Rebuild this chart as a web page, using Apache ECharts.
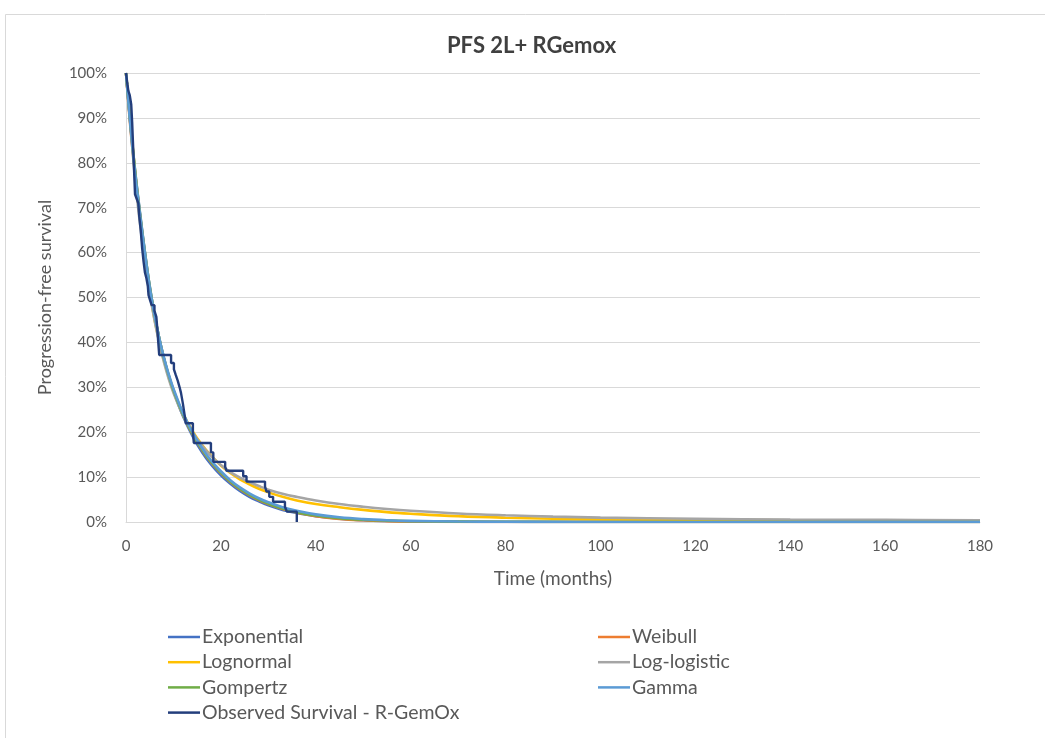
<!DOCTYPE html>
<html>
<head>
<meta charset="utf-8">
<title>PFS 2L+ RGemox</title>
<script src="https://cdn.jsdelivr.net/npm/echarts@6/dist/echarts.min.js"></script>
<style>
  html, body { margin: 0; padding: 0; background: #ffffff; }
  #chart { width: 1045px; height: 738px; }
</style>
</head>
<body>
<div id="chart"></div>
<script>
// Time grid (months) shared by the fitted parametric curves
const months = [0,1,2,3,4,5,6,7,8,9,10,12,14,16,18,20,22,24,26,28,30,33,36,40,45,50,55,60,70,80,90,100,120,140,160,180];

// Fitted survival (%) per distribution
const exponential = [100,88,77.5,68.5,60,52.5,46.3,41,36.4,32.5,29.2,23.6,19.2,15.6,12.7,10.4,8.5,6.9,5.6,4.6,3.7,2.7,2.0,1.3,0.75,0.42,0.24,0.14,0.05,0.015,0.005,0,0,0,0,0];
const weibull     = [100,87,76.8,67.8,59.5,52,46,40.8,36.3,32.5,29.3,23.9,19.6,16.1,13.2,10.9,8.9,7.3,6.0,4.9,4.0,2.9,2.1,1.3,0.7,0.38,0.2,0.1,0.03,0.01,0,0,0,0,0,0];
const lognormal   = [100,88.5,77,67,58.5,51.2,45.2,40.2,36,32.4,29.2,24.2,20.3,17.2,14.7,12.6,10.9,9.5,8.4,7.4,6.6,5.6,4.8,4.0,3.3,2.7,2.2,1.85,1.3,0.95,0.72,0.58,0.45,0.4,0.36,0.33];
const loglogistic = [100,87.5,75.5,66,58,51,45,40,35.6,31.9,28.8,23.8,20,17,14.6,12.7,11.1,9.9,8.9,8.0,7.2,6.3,5.6,4.8,4.0,3.4,2.9,2.5,1.9,1.5,1.2,0.98,0.72,0.56,0.47,0.4];
const gompertz    = [100,87.8,77.3,68.2,60,52.5,46.3,41,36.5,32.7,29.4,24.0,19.7,16.2,13.3,11.0,9.0,7.4,6.1,5.0,4.1,3.0,2.2,1.45,0.85,0.5,0.3,0.18,0.08,0.04,0.02,0.01,0,0,0,0];
const gamma       = [100,87.5,77,68,59.8,52.3,46.2,41,36.6,32.9,29.7,24.3,20,16.5,13.6,11.3,9.3,7.7,6.4,5.3,4.4,3.3,2.5,1.7,1.05,0.65,0.4,0.25,0.1,0.04,0.015,0.006,0.001,0,0,0];

// Kaplan-Meier estimate (event times in months, survival %)
const kmTimes = [0,0.3,0.5,0.8,1.1,1.3,1.45,1.6,1.75,1.9,2.25,2.6,2.8,3.1,3.4,3.7,4.0,4.3,4.6,4.75,5.1,5.4,6.0,6.4,6.6,6.8,7.0,9.5,10.1,10.5,10.9,11.3,11.6,12.0,12.3,12.6,14.1,14.3,17.9,18.4,20.9,21.2,24.7,25.4,29.3,29.6,30.2,31.0,33.5,33.9,36.0];
const kmSurvival = [100,97.5,96,95,93,89,85,81,77,73,72,71,68,65,61,58,55.5,54.3,52.5,50.5,49.3,48.3,47,45.7,43,40,37.2,35.4,34,32.7,31.5,30,28.7,26.3,24.2,22,20,17.6,15.5,13.4,12.3,11.4,10.2,9.0,7.9,6.8,5.6,4.5,3.4,2.3,0];

const yTicks = [0,10,20,30,40,50,60,70,80,90,100];

const FONT = 'Lato, "Open Sans", sans-serif';
const TEXT = '#595959';

function pairs(xs, ys) { return xs.map((x, i) => [x, ys[i]]); }

function fitted(name, values, color) {
  return {
    name: name, type: 'line', data: pairs(months, values),
    smooth: 0.4, symbol: 'none', z: 2,
    lineStyle: { color: color, width: 2.6 }, itemStyle: { color: color }
  };
}

const legendCommon = {
  orient: 'vertical', top: 622, itemGap: 5.2,
  icon: 'rect', itemWidth: 32, itemHeight: 2.5,
  textStyle: { fontFamily: FONT, fontSize: 19.5, color: TEXT, padding: [0, 0, 0, -3] }
};

const chart = echarts.init(document.getElementById('chart'), null, { renderer: 'canvas' });

chart.setOption({
  animation: false,
  backgroundColor: '#ffffff',
  graphic: [{
    type: 'rect', silent: true, z: -10,
    shape: { x: 5.5, y: 14.5, width: 1060, height: 760 },
    style: { fill: 'none', stroke: '#d9d9d9', lineWidth: 1 }
  }],
  title: {
    text: 'PFS 2L+ RGemox', left: 442, top: 30,
    textStyle: { fontFamily: FONT, fontSize: 22, fontWeight: 'bold', color: '#404040' }
  },
  grid: { left: 126, right: 65, top: 73, bottom: 216, containLabel: false },
  legend: [
    Object.assign({}, legendCommon, {
      left: 163, data: ['Exponential', 'Lognormal', 'Gompertz', 'Observed Survival - R-GemOx']
    }),
    Object.assign({}, legendCommon, {
      left: 593, data: ['Weibull', 'Log-logistic', 'Gamma']
    })
  ],
  xAxis: {
    type: 'value', min: 0, max: 180, interval: 20,
    name: 'Time (months)', nameLocation: 'middle', nameGap: 47,
    nameTextStyle: { fontFamily: FONT, fontSize: 19, color: TEXT },
    axisLine: { show: true, lineStyle: { color: '#d9d9d9', width: 1 } },
    axisTick: { show: false },
    axisLabel: { fontFamily: FONT, fontSize: 15, color: TEXT, margin: 17 },
    splitLine: { show: false }
  },
  yAxis: {
    type: 'value', min: 0, max: 100, interval: 10,
    name: 'Progression-free survival', nameLocation: 'middle', nameGap: 72,
    nameTextStyle: { fontFamily: FONT, fontSize: 18, color: TEXT },
    axisLine: { show: true, lineStyle: { color: '#d9d9d9', width: 1 } },
    axisTick: { show: false },
    axisLabel: {
      fontFamily: FONT, fontSize: 15, color: TEXT, margin: 19,
      formatter: v => (yTicks.includes(v) ? v + '%' : '')
    },
    splitLine: { show: true, lineStyle: { color: '#d9d9d9', width: 1.2 } }
  },
  series: [
    fitted('Exponential', exponential, '#4472c4'),
    fitted('Weibull', weibull, '#ed7d31'),
    fitted('Lognormal', lognormal, '#ffc000'),
    fitted('Log-logistic', loglogistic, '#a5a5a5'),
    fitted('Gompertz', gompertz, '#70ad47'),
    fitted('Gamma', gamma, '#5b9bd5'),
    {
      name: 'Observed Survival - R-GemOx', type: 'line',
      data: pairs(kmTimes, kmSurvival), step: 'end',
      symbol: 'none', z: 3,
      lineStyle: { color: '#233e7c', width: 2.4 }, itemStyle: { color: '#233e7c' }
    }
  ]
});
</script>
</body>
</html>
